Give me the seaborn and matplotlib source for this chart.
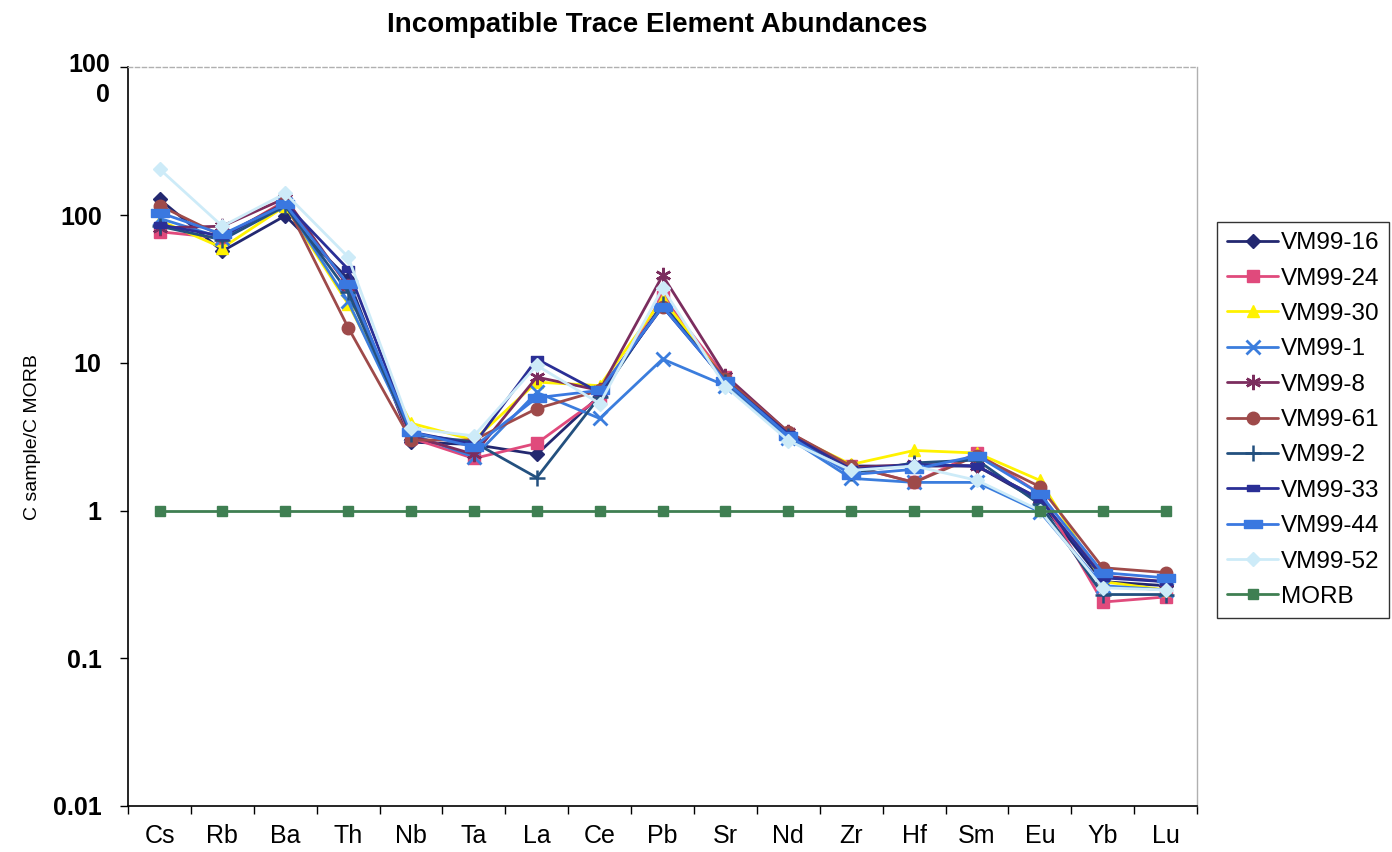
import numpy as np
import pandas as pd
import matplotlib
matplotlib.use("Agg")
import matplotlib.pyplot as plt
import seaborn as sns
from matplotlib.path import Path
from matplotlib.ticker import FixedLocator, NullFormatter

# Data
elements = ["Cs", "Rb", "Ba", "Th", "Nb", "Ta", "La", "Ce", "Pb",
            "Sr", "Nd", "Zr", "Hf", "Sm", "Eu", "Yb", "Lu"]

vm99_16 = [128, 57, 99, 37, 2.9, 2.8, 2.4, 6.0, 25, 7.5, 3.3, 2.0, 2.0, 2.0, 1.15, 0.33, 0.31]
vm99_24 = [77, 70, 125, 33, 3.1, 2.25, 2.85, 5.8, 28, 8.0, 3.3, 2.0, 1.55, 2.45, 1.3, 0.24, 0.26]
vm99_30 = [92, 60, 115, 25, 3.9, 3.0, 7.4, 7.0, 27, 7.6, 3.3, 2.05, 2.55, 2.45, 1.6, 0.33, 0.29]
vm99_1 = [95, 70, 118, 26, 3.3, 2.3, 6.3, 4.2, 10.6, 7.0, 3.1, 1.65, 1.55, 1.55, 0.98, 0.31, 0.29]
vm99_8 = [82, 84, 130, 33, 3.2, 2.4, 8.0, 6.5, 39, 8.2, 3.4, 1.95, 2.05, 2.0, 1.2, 0.36, 0.33]
vm99_61 = [116, 72, 122, 17.3, 3.0, 3.0, 4.9, 6.5, 24, 7.8, 3.4, 2.0, 1.55, 2.35, 1.45, 0.41, 0.38]
vm99_2 = [84, 68, 115, 30, 3.3, 2.9, 1.67, 5.9, 25, 7.4, 3.2, 1.8, 2.1, 2.2, 1.1, 0.27, 0.27]
vm99_33 = [86, 72, 120, 43, 3.4, 2.8, 10.6, 6.3, 24, 7.5, 3.3, 1.9, 2.05, 2.0, 1.2, 0.35, 0.33]
vm99_44 = [104, 74, 118, 34, 3.4, 2.7, 5.8, 6.5, 24, 7.5, 3.2, 1.75, 1.9, 2.35, 1.3, 0.38, 0.35]
vm99_52 = [205, 84, 140, 52, 3.6, 3.2, 9.6, 5.3, 32, 6.9, 2.97, 1.87, 2.0, 1.6, 1.0, 0.30, 0.29]
morb = [1.0] * len(elements)

series_names = ["VM99-16", "VM99-24", "VM99-30", "VM99-1", "VM99-8", "VM99-61",
                "VM99-2", "VM99-33", "VM99-44", "VM99-52", "MORB"]
series_values = [vm99_16, vm99_24, vm99_30, vm99_1, vm99_8, vm99_61,
                 vm99_2, vm99_33, vm99_44, vm99_52, morb]

y_ticks = [0.01, 0.1, 1, 10, 100, 1000]
y_tick_labels = ["0.01", "0.1", "1", "10", "100", ""]

# Styles
dash = Path([(-1, -0.45), (1, -0.45), (1, 0.45), (-1, 0.45), (-1, -0.45)],
            [Path.MOVETO, Path.LINETO, Path.LINETO, Path.LINETO, Path.CLOSEPOLY])
styles = {
    "VM99-16": dict(color="#232870", marker="D", ms=7.5),
    "VM99-24": dict(color="#E04A7C", marker="s", ms=8.5),
    "VM99-30": dict(color="#FFF200", marker="^", ms=9),
    "VM99-1": dict(color="#3B7DDD", marker="x", ms=10, mew=2),
    "VM99-8": dict(color="#7B2D5E", marker=(6, 2, 0), ms=11, mew=1.8),
    "VM99-61": dict(color="#9E4A4A", marker="o", ms=9),
    "VM99-2": dict(color="#23507F", marker="+", ms=11, mew=1.8),
    "VM99-33": dict(color="#2A2F96", marker=dash, ms=9),
    "VM99-44": dict(color="#3A78E0", marker=dash, ms=13),
    "VM99-52": dict(color="#CDEBF8", marker="D", ms=7.5),
    "MORB": dict(color="#3F7F52", marker="s", ms=6.5),
}

records = []
for name, vals in zip(series_names, series_values):
    for i, v in enumerate(vals):
        records.append({"sample": name, "pos": i, "value": v})
df = pd.DataFrame(records)

sns.set_style("white")
plt.rcParams["font.family"] = ["Liberation Sans", "DejaVu Sans"]
plt.rcParams["text.color"] = "black"
plt.rcParams["axes.labelcolor"] = "black"
plt.rcParams["xtick.color"] = "black"
plt.rcParams["ytick.color"] = "black"

fig = plt.figure(figsize=(13.92, 8.52), dpi=100)
ax = fig.add_axes([0.092, 0.054, 0.768, 0.867])

for name in series_names:
    st = styles[name]
    sub = df[df["sample"] == name]
    sns.lineplot(data=sub, x="pos", y="value", ax=ax, color=st["color"],
                 marker=st["marker"], markersize=st["ms"],
                 markeredgewidth=st.get("mew", 1.0),
                 markeredgecolor=st["color"], linewidth=2.0,
                 label=name, estimator=None, sort=False)

ax.set_yscale("log")
ax.set_ylim(0.01, 1000)
ax.set_xlim(-0.5, len(elements) - 0.5)

# x axis: labels centred, tick marks between categories
ax.set_xticks(np.arange(len(elements)))
ax.set_xticklabels(elements, fontsize=18)
ax.xaxis.set_minor_locator(FixedLocator(np.arange(len(elements) + 1) - 0.5))
ax.xaxis.set_minor_formatter(NullFormatter())
ax.tick_params(axis="x", which="major", length=0, pad=13)
ax.tick_params(axis="x", which="minor", length=6, width=1, direction="out",
               color="black", bottom=True)

ax.yaxis.set_major_locator(FixedLocator(y_ticks))
ax.set_yticklabels(y_tick_labels, fontsize=18, fontweight="bold")
ax.yaxis.set_minor_locator(FixedLocator([]))
ax.tick_params(axis="y", which="major", length=6, width=1, direction="out",
               color="black", left=True, pad=13)
ax.annotate("100\n0", xy=(0, 1000), xycoords=("axes fraction", "data"),
            xytext=(-13, 10), textcoords="offset points", ha="right", va="top",
            fontsize=18, fontweight="bold", linespacing=1.3)

ax.set_ylabel("C sample/C MORB", fontsize=14)
ax.yaxis.set_label_coords(-0.081, 0.5)
ax.set_xlabel("")

for side in ["left", "bottom"]:
    ax.spines[side].set_color("black")
    ax.spines[side].set_linewidth(1.2)
for side in ["top", "right"]:
    ax.spines[side].set_color("#B0B0B0")
    ax.spines[side].set_linewidth(1.0)
ax.spines["top"].set_linestyle((0, (3, 2)))
ax.grid(False)

fig.text(0.472, 0.971, "Incompatible Trace Element Abundances",
         ha="center", va="center", fontsize=20, fontweight="bold")

leg = ax.legend(loc="upper left", bbox_to_anchor=(1.019, 0.79),
                frameon=True, fancybox=False, fontsize=17.5, handlelength=2.1,
                handletextpad=0.1, labelspacing=0.55, borderpad=0.4,
                borderaxespad=0)
leg.get_frame().set_edgecolor("black")
leg.get_frame().set_linewidth(1.0)

fig.savefig("out.png", dpi=100)
